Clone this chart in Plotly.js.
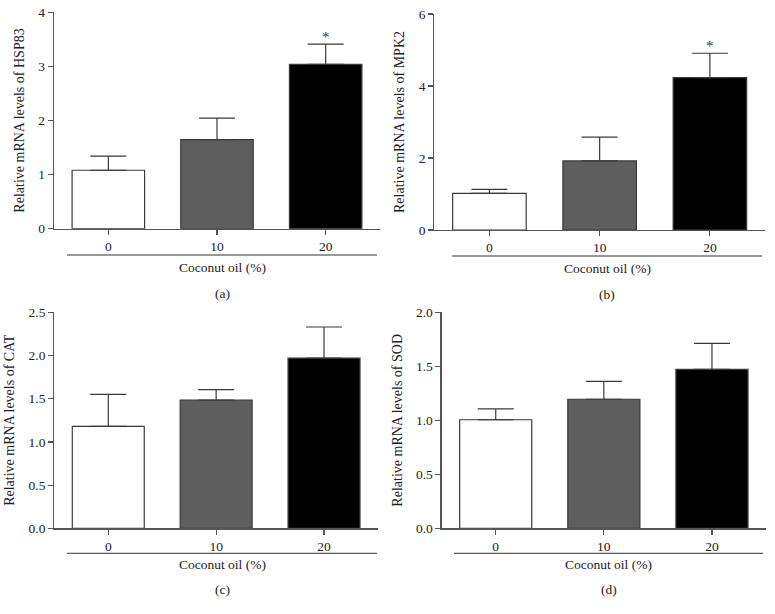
<!DOCTYPE html>
<html>
<head>
<meta charset="utf-8">
<script src="https://cdn.plot.ly/plotly-3.0.1.min.js"></script>
<style>html,body{margin:0;padding:0;background:#fff;}#chart{width:775px;height:614px;}</style>
</head>
<body>
<div id="chart"></div>
<script>
// Data
const categories = ['0', '10', '20'];
const hsp83Values = [1.08, 1.645, 3.04];
const hsp83Errors = [0.26, 0.40, 0.37];
const mpk2Values = [1.02, 1.92, 4.23];
const mpk2Errors = [0.11, 0.66, 0.68];
const catValues = [1.18, 1.485, 1.97];
const catErrors = [0.37, 0.12, 0.36];
const sodValues = [1.005, 1.195, 1.472];
const sodErrors = [0.10, 0.165, 0.24];
const barColors = ['#ffffff', '#5e5e5e', '#000000'];
const panelLabels = ['(a)', '(b)', '(c)', '(d)'];
const yTitles = ['Relative mRNA levels of HSP83', 'Relative mRNA levels of MPK2',
                 'Relative mRNA levels of CAT', 'Relative mRNA levels of SOD'];
const xTitle = 'Coconut oil (%)';
const significance = [['', '', '*'], ['', '', '*'], ['', '', ''], ['', '', '']];

const series = [
  {v: hsp83Values, e: hsp83Errors},
  {v: mpk2Values, e: mpk2Errors},
  {v: catValues, e: catErrors},
  {v: sodValues, e: sodErrors}
];
const yRanges = [[0, 4], [0, 6], [0, 2.5], [0, 2.0]];
const yDtick = [1, 2, 0.5, 0.5];
const yFormat = ['', '', '.1f', '.1f'];

const H = 614;
const px = p => 1 - p / H;
const xDomains = [[0.0697, 0.4903], [0.5604, 0.9871], [0.0701, 0.4877], [0.5699, 0.9884]];
const yDomains = [[px(228.7), px(12.3)], [px(230), px(14)], [px(528.3), px(312.3)], [px(528.3), px(312.3)]];
// pixel rows of underline, x title, panel label
const underlinePx = [255, 256, 553.3, 553.3];
const xTitlePx = [267.5, 268, 564.5, 564.5];
const labelPx = [293, 294, 589, 589];
const underlineX = [[67, 377], [452, 762], [67, 377], [454, 763]];

const fam = 'Liberation Serif, Times New Roman, serif';
const font = {family: fam, size: 13.5, color: '#222'};
const axisColor = '#555';

const traces = [];
const layout = {
  width: 775, height: 614,
  margin: {l: 0, r: 0, t: 0, b: 0},
  paper_bgcolor: '#fff', plot_bgcolor: 'rgba(0,0,0,0)',
  showlegend: false,
  font: font,
  bargap: 0.333,
  annotations: [], shapes: []
};

series.forEach((s, i) => {
  const n = i + 1;
  const xa = 'x' + (n === 1 ? '' : n);
  const ya = 'y' + (n === 1 ? '' : n);
  traces.push({
    type: 'bar', x: categories, y: s.v,
    xaxis: xa, yaxis: ya,
    marker: {color: barColors, line: {color: '#3a3a3a', width: 1.2}},
    error_y: {type: 'data', symmetric: false, array: s.e, arrayminus: [0, 0, 0],
              color: '#3a3a3a', thickness: 1.2, width: 18},
    hoverinfo: 'skip'
  });
  const xk = 'xaxis' + (n === 1 ? '' : n);
  const yk = 'yaxis' + (n === 1 ? '' : n);
  layout[xk] = {
    domain: xDomains[i], anchor: ya, type: 'category', range: [-0.5, 2.5],
    showline: true, linecolor: axisColor, linewidth: 1.2,
    ticks: 'outside', ticklen: 5, tickcolor: axisColor, tickwidth: 1.2,
    showgrid: false, zeroline: false, tickfont: font, fixedrange: true
  };
  layout[yk] = {
    domain: yDomains[i], anchor: xa, range: yRanges[i], dtick: yDtick[i], tick0: 0,
    tickformat: yFormat[i],
    showline: true, linecolor: axisColor, linewidth: 1.2,
    ticks: 'outside', ticklen: 5, tickcolor: axisColor, tickwidth: 1.2,
    showgrid: false, zeroline: false, tickfont: font, fixedrange: true,
    title: {text: yTitles[i], font: {family: fam, size: 14, color: '#222'}, standoff: 10}
  };
  layout.shapes.push({
    type: 'line', xref: 'paper', yref: 'paper',
    x0: underlineX[i][0] / 775, x1: underlineX[i][1] / 775,
    y0: px(underlinePx[i]), y1: px(underlinePx[i]),
    line: {color: '#333', width: 1}
  });
  const xc = (underlineX[i][0] + underlineX[i][1]) / 2 / 775;
  layout.annotations.push({
    xref: 'paper', yref: 'paper', x: xc, y: px(xTitlePx[i]), text: xTitle,
    xanchor: 'center', yanchor: 'middle',
    showarrow: false, font: {family: fam, size: 13.5, color: '#222'}
  });
  layout.annotations.push({
    xref: 'paper', yref: 'paper', x: xc, y: px(labelPx[i]), text: panelLabels[i],
    xanchor: 'center', yanchor: 'middle',
    showarrow: false, font: {family: fam, size: 13.5, color: '#222'}
  });
  significance[i].forEach((mark, j) => {
    if (mark) {
      layout.annotations.push({
        xref: xa, yref: ya, x: j, y: s.v[j] + s.e[j], text: mark,
        xanchor: 'center', yanchor: 'bottom', yshift: -3,
        showarrow: false,
        font: {family: fam, size: 15, color: '#333'}
      });
    }
  });
});

Plotly.newPlot('chart', traces, layout, {displayModeBar: false, staticPlot: true});
</script>
</body>
</html>
